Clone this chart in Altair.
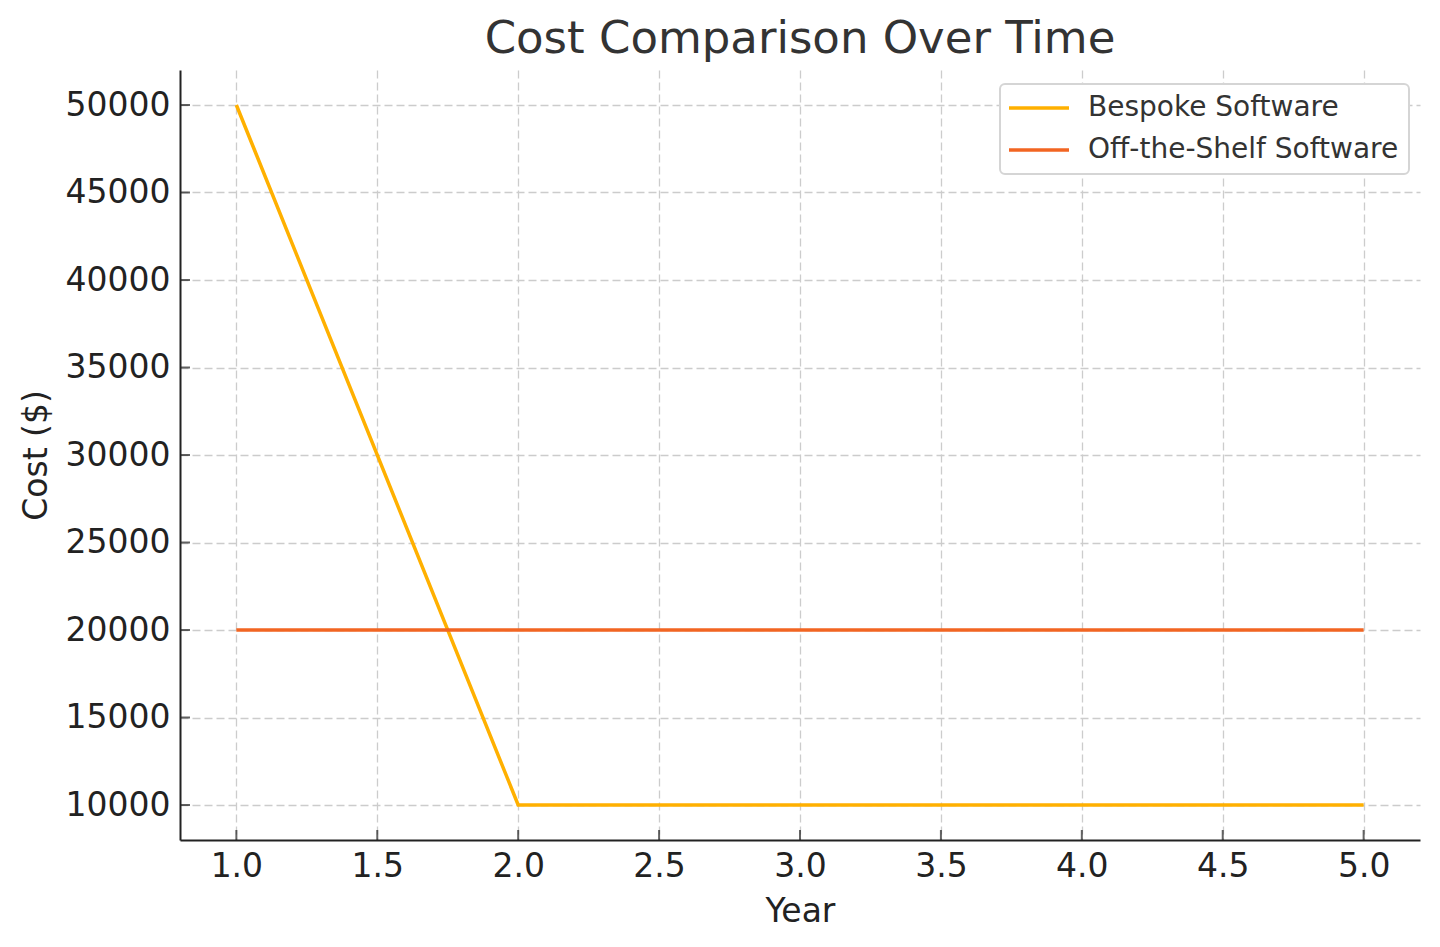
import altair as alt
import pandas as pd

years = [1, 2, 3, 4, 5]
bespoke = [50000, 10000, 10000, 10000, 10000]
off_shelf = [20000, 20000, 20000, 20000, 20000]
series_names = ["Bespoke Software", "Off-the-Shelf Software"]
colors = ["#FFB000", "#F26522"]

rows = []
for y, v in zip(years, bespoke):
    rows.append({"Year": y, "Cost": v, "Series": series_names[0]})
for y, v in zip(years, off_shelf):
    rows.append({"Year": y, "Cost": v, "Series": series_names[1]})
df = pd.DataFrame(rows)

x_ticks = [1.0, 1.5, 2.0, 2.5, 3.0, 3.5, 4.0, 4.5, 5.0]
y_ticks = [10000, 15000, 20000, 25000, 30000, 35000, 40000, 45000, 50000]

W, H = 1240, 770
xscale = alt.Scale(domain=[0.8, 5.2], nice=False, zero=False)
yscale = alt.Scale(domain=[8000, 52000], nice=False, zero=False)

lines = alt.Chart(df).mark_line(strokeWidth=3.5, clip=True).encode(
    x=alt.X("Year:Q", scale=xscale,
            axis=alt.Axis(values=x_ticks, format=".1f", title="Year")),
    y=alt.Y("Cost:Q", scale=yscale,
            axis=alt.Axis(values=y_ticks, format="d", title="Cost ($)")),
    color=alt.Color("Series:N", scale=alt.Scale(domain=series_names, range=colors),
                    legend=alt.Legend(title=None, orient="none", legendX=820, legendY=14,
                                      symbolType="M-3,0H3", symbolStrokeWidth=3.5,
                                      symbolSize=400, symbolOffset=15,
                                      symbolFillColor="transparent",
                                      labelFontSize=28,
                                      labelFont="DejaVu Sans", labelColor="#333333",
                                      labelLimit=400,
                                      strokeColor="#d5d5d5", fillColor="white",
                                      cornerRadius=5, padding=10, rowPadding=14,
                                      labelOffset=35)),
)

xt = alt.Chart(pd.DataFrame({"t": x_ticks})).mark_tick(
    color="#222222", thickness=2, size=10, orient="vertical"
).encode(x=alt.X("t:Q", scale=xscale), y=alt.value(H - 5))

yt = alt.Chart(pd.DataFrame({"t": y_ticks})).mark_tick(
    color="#222222", thickness=2, size=10, orient="horizontal"
).encode(y=alt.Y("t:Q", scale=yscale), x=alt.value(5))

chart = alt.layer(lines, xt, yt).properties(
    width=W, height=H,
    title=alt.TitleParams("Cost Comparison Over Time", fontSize=45, font="DejaVu Sans",
                          fontWeight="normal", color="#333333", anchor="middle", offset=8),
    autosize=alt.AutoSizeParams(type="none"),
    padding={"left": 180, "top": 70, "right": 20, "bottom": 107},
).configure_view(stroke=None).configure_legend(strokeWidth=2).configure_axis(
    labelFont="DejaVu Sans", titleFont="DejaVu Sans", labelFontSize=33, titleFontSize=33,
    labelColor="#222222", titleColor="#222222", titleFontWeight="normal",
    domainColor="#222222", domainWidth=2, ticks=False,
    gridColor="#cccccc", gridDash=[8, 4], gridWidth=1.3, labelPadding=10,
).configure_axisX(titlePadding=12).configure_axisY(titlePadding=12)

chart.save("out.html", embed_options={"renderer": "svg", "actions": False})
